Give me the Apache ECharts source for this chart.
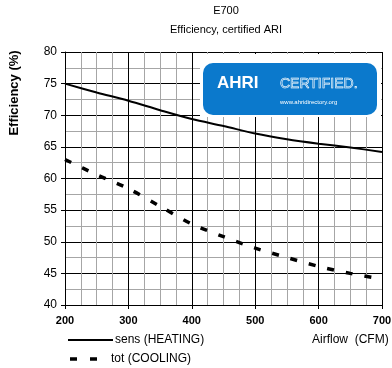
<!DOCTYPE html>
<html><head><meta charset="utf-8">
<script src="https://cdn.jsdelivr.net/npm/echarts@6/dist/echarts.min.js"></script>
<style>html,body{margin:0;padding:0;background:#fff}#c{width:392px;height:368px}</style>
</head><body><div id="c"></div>
<script>
const airflow = [200, 250, 300, 350, 400, 450, 500, 550, 600, 650, 700];
const sensHeating = [75.0, 73.6, 72.3, 70.8, 69.4, 68.3, 67.1, 66.2, 65.5, 64.9, 64.2];
const totCooling = [63.0, 60.6, 58.4, 55.6, 52.8, 50.8, 49.0, 47.5, 46.1, 45.0, 44.1];
const xTicks = [200, 300, 400, 500, 600, 700];
const yTicks = [40, 45, 50, 55, 60, 65, 70, 75, 80];
const seriesNames = ['sens (HEATING)', 'tot (COOLING)'];

const F = 'Liberation Sans, Arial, sans-serif';
const chart = echarts.init(document.getElementById('c'));
chart.setOption({
  animation: false,
  textStyle: {fontFamily: F},
  grid: {left: 65, right: 10, top: 52, bottom: 63, containLabel: false, outerBoundsMode: 'none'},
  xAxis: {
    type: 'value', min: xTicks[0], max: xTicks[xTicks.length-1], interval: 100,
    axisLine: {onZero: false, lineStyle: {color: '#000', width: 1}},
    axisTick: {show: true, length: 4, lineStyle: {color: '#000'}},
    axisLabel: {color: '#000', fontFamily: F, fontWeight: 'bold', fontSize: 11, margin: 10},
    splitLine: {show: true, lineStyle: {color: '#000', width: 1}},
    minorTick: {show: false, splitNumber: 4},
    minorSplitLine: {show: true, lineStyle: {color: '#a6a6a6', width: 1}}
  },
  yAxis: {
    type: 'value', min: yTicks[0], max: yTicks[yTicks.length-1], interval: 5,
    axisLine: {show: true, lineStyle: {color: '#000', width: 1}},
    axisTick: {show: true, length: 4, lineStyle: {color: '#000'}},
    axisLabel: {color: '#000', fontFamily: F, fontSize: 12, margin: 8},
    splitLine: {show: true, lineStyle: {color: '#000', width: 1}},
    minorTick: {show: false, splitNumber: 2},
    minorSplitLine: {show: true, lineStyle: {color: '#a6a6a6', width: 1}}
  },
  series: [
    {name: seriesNames[0], type: 'line', smooth: 0.3, symbol: 'none',
     data: airflow.map((x, i) => [x, sensHeating[i]]),
     lineStyle: {color: '#000', width: 2}, itemStyle: {color: '#000'}, z: 5},
    {name: seriesNames[1], type: 'line', smooth: 0.3, symbol: 'none',
     data: airflow.map((x, i) => [x, totCooling[i]]),
     lineStyle: {color: '#000', width: 3.5, type: [7, 12]}, itemStyle: {color: '#000'}, z: 5}
  ],
  graphic: [
    {type: 'text', x: 226, y: 5, style: {text: 'E700', fill: '#000', font: '11px ' + F, textAlign: 'center'}},
    {type: 'text', x: 226, y: 24, style: {text: 'Efficiency, certified ARI', fill: '#000', font: '11px ' + F, textAlign: 'center'}},
    {type: 'text', x: 14, y: 93, rotation: Math.PI / 2, style: {text: 'Efficiency (%)', fill: '#000', font: 'bold 13px ' + F, textAlign: 'center', textVerticalAlign: 'middle'}},
    {type: 'text', x: 312, y: 334, style: {text: 'Airflow  (CFM)', fill: '#000', font: '12px ' + F}},
    {type: 'line', shape: {x1: 68, y1: 340, x2: 113, y2: 340}, style: {stroke: '#000', lineWidth: 2}},
    {type: 'text', x: 115, y: 334, style: {text: seriesNames[0], fill: '#000', font: '12px ' + F}},
    {type: 'line', shape: {x1: 70, y1: 359, x2: 109, y2: 359}, style: {stroke: '#000', lineWidth: 3.5, lineDash: [7, 13]}},
    {type: 'text', x: 111, y: 353, style: {text: seriesNames[1], fill: '#000', font: '12px ' + F}},
    {type: 'rect', shape: {x: 200, y: 54, width: 181, height: 63}, style: {fill: '#fff'}, z: 10},
    {type: 'rect', shape: {x: 203, y: 63, width: 174, height: 52, r: 10}, style: {fill: '#0b79cc'}, z: 11},
    {type: 'text', x: 217, y: 75, style: {text: 'AHRI', fill: '#fff', font: 'bold 17px ' + F}, z: 12},
    {type: 'text', x: 280, y: 77, style: {text: 'CERTIFIED.', fill: 'rgba(0,0,0,0)', stroke: '#fff', lineWidth: 0.6, font: '14px ' + F}, z: 12},
    {type: 'text', x: 280, y: 99, style: {text: 'www.ahridirectory.org', fill: '#fff', font: '6px ' + F}, z: 12}
  ]
});
</script></body></html>
